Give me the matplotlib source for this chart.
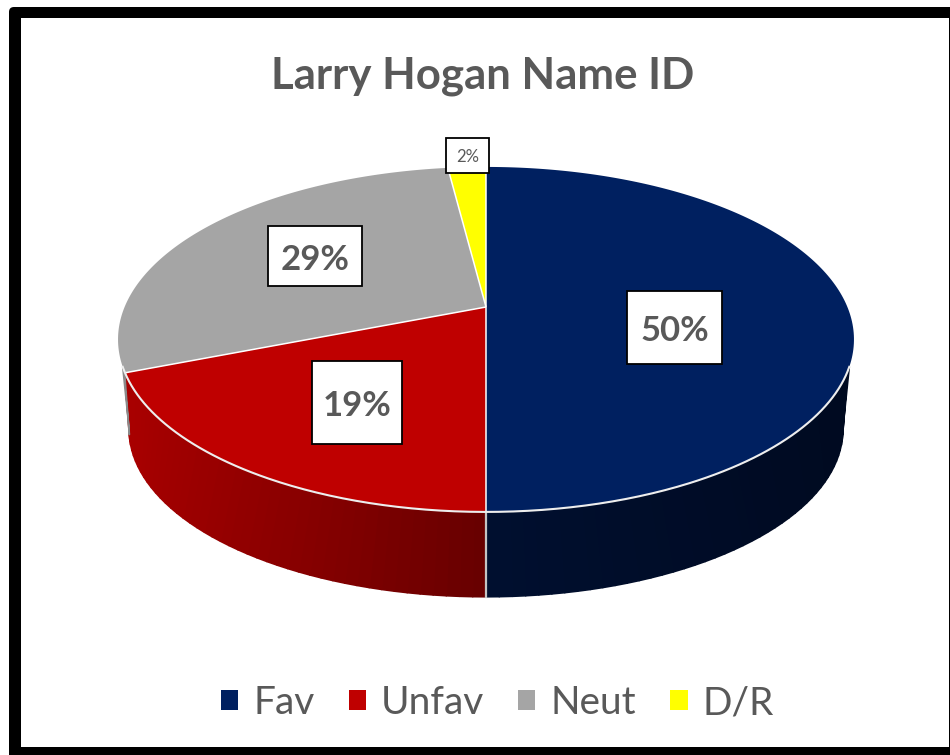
"""Larry Hogan name ID, drawn as a tilted pie with a shaded rim."""
import numpy as np
import matplotlib
matplotlib.use("Agg")
import matplotlib.pyplot as plt
from matplotlib.collections import PolyCollection
from matplotlib.colors import to_rgb
from matplotlib.patches import FancyBboxPatch, Patch, Polygon, Rectangle

title = "Larry Hogan Name ID"
labels = ["Fav", "Unfav", "Neut", "D/R"]
values = [50, 19, 29, 2]
colors = ["#002060", "#bf0000", "#a5a5a5", "#ffff00"]
rim_inner = ["#000f30", "#680000", "#8a8a8a", "#cccc00"]
rim_outer = ["#000a20", "#ab0000", "#8a8a8a", "#cccc00"]

TEXT = "#595959"
plt.rcParams["font.family"] = ["Lato", "DejaVu Sans"]

# perspective of the disc, in pixels of the 950x755 picture
CX = 486
TILT = 0.188
TOP = dict(apex=307, rx=361.4, ry=166.4)
BOTTOM = dict(apex=398, rx=350.5, ry=161.4)

# label boxes: left, right, top, bottom, font size, weight
BOXES = [
    (627, 722, 291, 364, 25, "bold"),
    (312, 402, 361, 444, 25, "bold"),
    (268, 362, 226, 286, 25, "bold"),
    (446, 489, 138, 173, 12, "normal"),
]


def project(deg, disc):
    """Clockwise degrees from twelve o'clock to picture pixels."""
    a = np.radians(deg)
    d = 1 + TILT * np.cos(a)
    return CX + disc["rx"] * np.sin(a) / d, disc["apex"] - disc["ry"] * np.cos(a) / d


def points(deg, disc):
    return np.column_stack(project(np.asarray(deg, dtype=float), disc))


edges = np.concatenate([[0], np.cumsum(values)]) * 360 / sum(values)

fig = plt.figure(figsize=(9.5, 7.55), dpi=100)
ax = fig.add_axes([0, 0, 1, 1])
ax.set_xlim(0, 950)
ax.set_ylim(755, 0)
ax.axis("off")

# frame
ax.add_patch(FancyBboxPatch((11, 9), 960, 760, boxstyle="round,pad=2,rounding_size=5",
                            fc="black", ec="none"))
ax.add_patch(Rectangle((21, 18), 928, 729, fc="white", ec="none"))

# rim, as thin strips so it can be shaded; odd count puts a node at 180
n = 91
top_deg = np.linspace(109.7, 250.3, n)
low_deg = 180 + (top_deg - 180) * 79.2 / 70.3
top_pts = points(top_deg, TOP)
low_pts = points(low_deg, BOTTOM)
quads, quad_colors = [], []
for i in range(n - 1):
    quads.append([top_pts[i], top_pts[i + 1], low_pts[i + 1], low_pts[i]])
    mid = (top_deg[i] + top_deg[i + 1]) / 2
    k = min(np.searchsorted(edges, mid, side="right") - 1, len(values) - 1)
    t = abs(top_pts[i][0] - CX) / 368
    c = (1 - t) * np.array(to_rgb(rim_inner[k])) + t * np.array(to_rgb(rim_outer[k]))
    quad_colors.append(c)
ax.add_collection(PolyCollection(quads, facecolors=quad_colors, edgecolors=quad_colors,
                                 linewidths=1.2))
ax.plot([CX, CX], [project(180, TOP)[1], project(180, BOTTOM)[1]], color="#c4c4c4", lw=1.6)

# top face
apex = (CX, TOP["apex"])
for k in range(len(values)):
    arc = points(np.linspace(edges[k], edges[k + 1], 200), TOP)
    ax.add_patch(Polygon(np.vstack([apex, arc]), closed=True, fc=colors[k], ec="none"))
for k in range(len(values)):
    x, y = project(edges[k], TOP)
    ax.plot([CX, x], [TOP["apex"], y], color="white", lw=1.1, solid_capstyle="butt")
front = points(np.linspace(109.7, 250.3, 300), TOP)
ax.plot(front[:, 0], front[:, 1], color="#eeeeee", lw=1.5)

# value labels
for v, (x0, x1, y0, y1, size, weight) in zip(values, BOXES):
    ax.add_patch(Rectangle((x0, y0), x1 - x0, y1 - y0, fc="white", ec="black", lw=1.3, zorder=5))
    ax.text((x0 + x1) / 2, (y0 + y1) / 2 + size * 0.14, f"{v}%", ha="center", va="center",
            fontsize=size, fontweight=weight, color=TEXT, zorder=6)

ax.text(482.5, 76, title, ha="center", va="center", fontsize=31.5, fontweight="bold", color=TEXT)

handles = [Patch(fc=c, ec="none", label=l) for c, l in zip(colors, labels)]
ax.legend(handles=handles, loc="center", bbox_to_anchor=(497.5 / 950, 1 - 703 / 755),
          ncol=4, frameon=False, fontsize=28, labelcolor=TEXT, handlelength=0.44,
          handleheight=0.44, handletextpad=0.39, columnspacing=0.88, borderpad=0)

fig.savefig("out.png", dpi=100)
